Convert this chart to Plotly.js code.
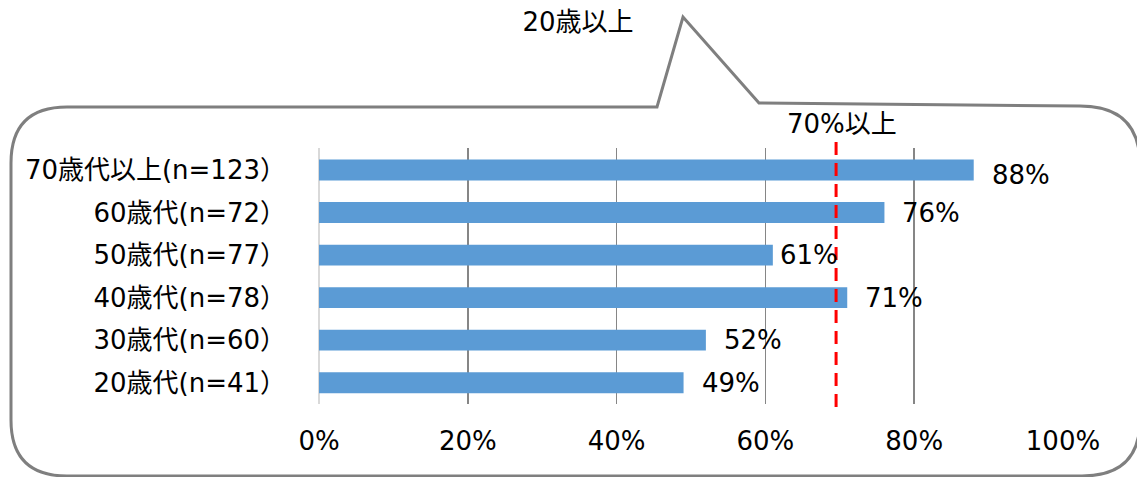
<!DOCTYPE html>
<html>
<head>
<meta charset="utf-8">
<script src="https://cdn.plot.ly/plotly-3.0.1.min.js"></script>
<style>html,body{margin:0;padding:0;background:#fff;}#chart{width:1137px;height:477px;}</style>
</head>
<body>
<div id="chart"></div>
<script>
// ---- data ----
const categories = ["70歳代以上(n=123）", "60歳代(n=72）", "50歳代(n=77）", "40歳代(n=78）", "30歳代(n=60）", "20歳代(n=41）"];
const values = [88, 76, 61, 71, 52, 49];
const valueLabels = ["88%", "76%", "61%", "71%", "52%", "49%"];
const xTickVals = [0, 20, 40, 60, 80, 100];
const xTickText = ["0%", "20%", "40%", "60%", "80%", "100%"];
const thresholdValue = 69.5;
const thresholdLabel = "70%以上";
const chartTitle = "20歳以上";

// ---- layout geometry ----
const W = 1137, H = 477;
const M = {l: 319, r: 74, t: 148, b: 73};
const PW = W - M.l - M.r, PH = H - M.t - M.b;
const FONT = "DejaVu Sans, 'Noto Sans CJK JP', sans-serif";
const px = x => (x - M.l) / PW;
const py = y => 1 - (y - M.t) / PH;

// speech-bubble outline (pixel coords -> paper coords)
const bubble = [
  ["M", 67, 107], ["L", 657, 107], ["L", 683, 17], ["L", 759, 103], ["L", 1080, 106],
  ["Q", 1140, 106, 1140, 165], ["L", 1140, 420], ["Q", 1140, 476, 1082, 476],
  ["L", 67, 476], ["Q", 11, 476, 11, 420], ["L", 11, 163], ["Q", 11, 107, 67, 107]
];
let path = "";
bubble.forEach(seg => {
  path += seg[0];
  for (let i = 1; i < seg.length; i += 2) {
    path += " " + px(seg[i]).toFixed(5) + "," + py(seg[i + 1]).toFixed(5);
  }
  path += " ";
});
path += "Z";

// label placement tweaks
const labelShiftX = {"61%": 5};
const labelShiftY = {"88%": -5};

const annotations = categories.map((c, i) => ({
  x: values[i], y: c, xref: "x", yref: "y",
  text: valueLabels[i], showarrow: false, xanchor: "left", yanchor: "middle",
  xshift: (labelShiftX[valueLabels[i]] !== undefined ? labelShiftX[valueLabels[i]] : 16),
  yshift: (labelShiftY[valueLabels[i]] || 0),
  font: {family: FONT, size: 26, color: "#000"}
}));
annotations.push({
  x: thresholdValue, xref: "x", y: py(124), yref: "paper",
  text: thresholdLabel, showarrow: false, xanchor: "center", yanchor: "middle",
  xshift: 6,
  font: {family: FONT, size: 26, color: "#000"}
});

const trace = {
  type: "bar", orientation: "h",
  y: categories, x: values,
  marker: {color: "#5b9bd5", line: {width: 0}},
  hoverinfo: "none"
};

const layout = {
  width: W, height: H,
  margin: M,
  paper_bgcolor: "#fff", plot_bgcolor: "rgba(0,0,0,0)",
  showlegend: false,
  bargap: 0.51,
  title: {
    text: chartTitle, x: 578 / W, xref: "container", xanchor: "center",
    y: 1 - 22 / H, yref: "container", yanchor: "middle",
    font: {family: FONT, size: 26, color: "#000"}
  },
  xaxis: {
    range: [0, 100], tickvals: xTickVals, ticktext: xTickText,
    showgrid: true, gridcolor: "#868686", gridwidth: 1.5,
    zeroline: true, zerolinecolor: "#d9d9d9", zerolinewidth: 2,
    showline: false, ticks: "", ticklabelstandoff: 19,
    tickfont: {family: FONT, size: 26, color: "#000"},
    fixedrange: true
  },
  yaxis: {
    type: "category", autorange: "reversed",
    showgrid: false, zeroline: false, showline: false, ticks: "",
    ticklabelstandoff: 32,
    tickfont: {family: FONT, size: 26, color: "#000"},
    fixedrange: true
  },
  shapes: [
    {type: "path", xref: "paper", yref: "paper", path: path,
     line: {color: "#7f7f7f", width: 3}, fillcolor: "rgba(0,0,0,0)", layer: "above"},
    {type: "line", xref: "x", yref: "paper", x0: thresholdValue, x1: thresholdValue,
     y0: py(142), y1: py(410), line: {color: "#ff0000", width: 3, dash: "13px,8px"}, layer: "above"}
  ],
  annotations: annotations
};

Plotly.newPlot("chart", [trace], layout, {displayModeBar: false, staticPlot: true});
</script>
</body>
</html>
